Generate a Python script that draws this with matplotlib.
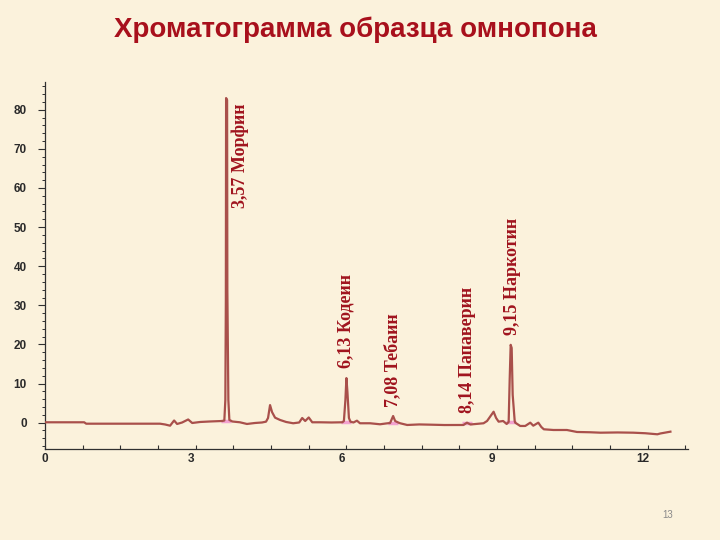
import matplotlib
matplotlib.use("Agg")
import matplotlib.pyplot as plt
import matplotlib.transforms as mtransforms
from matplotlib.ticker import MultipleLocator, FixedLocator, FixedFormatter

# ---- data ----
trace_x = [0.00, 0.78, 0.82, 2.29, 2.39, 2.49, 2.57, 2.63, 2.73, 2.85, 2.93, 3.09, 3.29, 3.53,
           3.57, 3.59, 3.60, 3.605, 3.625, 3.63, 3.65, 3.67, 3.73, 3.88, 4.02, 4.18, 4.32, 4.40,
           4.44, 4.48, 4.52, 4.58, 4.68, 4.80, 4.94, 5.06, 5.12, 5.18, 5.25, 5.32, 5.48, 5.70, 5.92,
           5.95, 5.98, 6.00, 6.02, 6.05, 6.08, 6.14, 6.21, 6.27, 6.47, 6.67, 6.79, 6.87,
           6.93, 6.97, 7.03, 7.07, 7.21, 7.45, 7.67, 7.95, 8.33,
           8.40, 8.47, 8.73, 8.80, 8.93, 8.98, 9.03, 9.12, 9.19,
           9.23, 9.25, 9.27, 9.29, 9.31, 9.35, 9.36, 9.46, 9.56, 9.66, 9.72, 9.82, 9.88,
           9.93, 10.12, 10.39, 10.59, 10.85, 11.06, 11.40, 11.71, 11.95, 12.19, 12.25, 12.45]
trace_y = [0.10, 0.10, -0.26, -0.26, -0.46, -0.77, 0.56, -0.33, 0.05, 0.82, -0.08, 0.18, 0.31, 0.43,
           0.56, 5.8, 31.0, 83.0, 82.5, 34.0, 5.8, 0.7, 0.30, 0.10, -0.33, -0.08, 0.05, 0.26,
           1.2, 4.5, 2.7, 1.28, 0.69, 0.18, -0.15, 0.05, 1.2, 0.43, 1.33, 0.10, 0.10, 0.05, 0.10,
           0.43, 5.8, 11.4, 7.9, 1.2, 0.26, 0.05, 0.51, -0.15, -0.15, -0.41, -0.20, -0.08,
           1.7, 0.43, 0.05, -0.15, -0.59, -0.45, -0.51, -0.60, -0.59,
           0.0, -0.46, -0.15, 0.43, 2.8, 1.2, 0.26, 0.43, -0.33,
           0.18, 10.9, 19.9, 19.1, 7.1, 0.43, 0.0, -0.84, -0.84, 0.0, -0.77, 0.0, -1.10,
           -1.69, -1.87, -1.87, -2.38, -2.45, -2.56, -2.50, -2.56, -2.70, -2.97, -2.76, -2.30]

peak_names = ["3,57 Морфин", "6,13 Кодеин", "7,08 Тебаин", "8,14 Папаверин", "9,15 Наркотин"]
peak_x = [3.61, 6.00, 6.93, 8.40, 9.27]
peak_base = [0.4, 0.2, -0.1, 0.0, 0.1]
label_x = [3.88, 6.00, 6.93, 8.41, 9.30]
label_y = [54.9, 14.0, 4.0, 2.5, 22.4]

xtick_vals = [0, 3, 6, 9, 12]
xtick_labels = ["0", "3", "6", "9", "12"]
ytick_vals = [0, 10, 20, 30, 40, 50, 60, 70, 80]
ytick_labels = ["0", "10", "20", "30", "40", "50", "60", "70", "80"]

title = "Хроматограмма образца омнопона"

# ---- figure ----
bg = "#FBF2DC"
fig = plt.figure(figsize=(7.2, 5.4), dpi=100, facecolor=bg)
ax = fig.add_axes([45/720, 1-449/540, (688-45)/720, (449-82)/540])
ax.set_facecolor(bg)

ax.plot(trace_x, trace_y, color="#A9504B", lw=1.6, solid_joinstyle="round", zorder=3)
for px, pb in zip(peak_x, peak_base):
    ax.plot([px - 0.1, px + 0.1], [pb, pb], color="#F2A2D0", lw=2.5, zorder=2,
            solid_capstyle="butt")

for name, lx, ly in zip(peak_names, label_x, label_y):
    ax.text(lx, ly, name, rotation=90, ha="center", va="bottom",
            fontsize=13, fontweight="bold", family="Liberation Serif", color="#A0141E")

ax.set_xlim(0, 12.8)
ax.set_ylim(-6.73, 87.1)

for s in ["top", "right"]:
    ax.spines[s].set_visible(False)
for s in ["left", "bottom"]:
    ax.spines[s].set_color("#303030")
    ax.spines[s].set_linewidth(0.9)

ax.xaxis.set_major_locator(FixedLocator(xtick_vals))
ax.xaxis.set_major_formatter(FixedFormatter(xtick_labels))
ax.xaxis.set_minor_locator(MultipleLocator(0.75))
ax.yaxis.set_major_locator(FixedLocator(ytick_vals))
ax.yaxis.set_major_formatter(FixedFormatter(ytick_labels))
ax.yaxis.set_minor_locator(MultipleLocator(2))

ax.tick_params(axis="x", which="both", direction="in", length=3, width=0.8,
               color="#303030", pad=3, labelsize=8.5)
ax.tick_params(axis="y", which="major", direction="out", length=5, width=0.8,
               color="#303030", pad=8, labelsize=8.5)
ax.tick_params(axis="y", which="minor", direction="out", length=2.5, width=0.7,
               color="#303030")
for lab in ax.get_xticklabels() + ax.get_yticklabels():
    lab.set_fontweight("bold")
    lab.set_color("#2A2A2A")
    lab.set_family("Liberation Sans")

shift = mtransforms.ScaledTranslation(-5/100, 0, fig.dpi_scale_trans)
for tick in ax.xaxis.get_major_ticks()[1:]:
    tick.label1.set_transform(tick.label1.get_transform() + shift)

fig.text(355/720, 1-37/540, title, ha="center", va="baseline", fontsize=20,
         fontweight="bold", family="Liberation Sans", color="#A8101C")
fig.text(668/720, 1-515/540, "13", ha="center", va="center", fontsize=7,
         color="#8A8A8A", family="Liberation Sans")

fig.savefig("out.png", dpi=100, facecolor=bg)
